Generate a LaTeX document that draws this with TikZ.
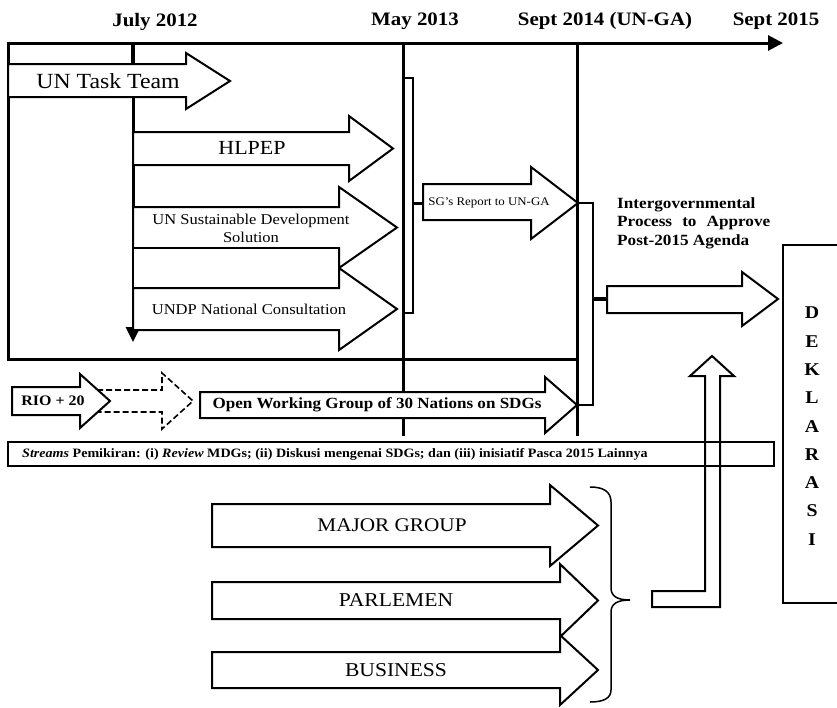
\documentclass[tikz,border=0pt]{standalone}
\usepackage{fontspec}
\setmainfont{Liberation Serif}[FakeStretch=1.1]
\usetikzlibrary{arrows.meta}
% #1 style, #2 left x, #3 body top, #4 body bottom, #5 notch x, #6 head top, #7 head bottom, #8 tip x
\newcommand{\fatarr}[8]{%
  \draw[#1] (#2,#3) -- (#5,#3) -- (#5,#6) -- (#8,{(#6+#7)/2}) -- (#5,#7) -- (#5,#4) -- (#2,#4) -- cycle;}
\begin{document}
\begin{tikzpicture}[x=1pt,y=-1pt,
  arr/.style={draw=black,line width=2pt,fill=white,line join=miter},
  dasharr/.style={draw=black,line width=1.6pt,dashed,dash pattern=on 6pt off 3pt,line join=miter},
  thick3/.style={line width=3pt},
  hdr/.style={font=\fontsize{19}{22}\selectfont\bfseries,inner sep=0pt},
  big/.style={font=\fontsize{20}{24}\selectfont,inner sep=0pt},
  mid/.style={font=\fontsize{15}{18}\selectfont,inner sep=0pt,align=center},
  small/.style={font=\fontsize{11.7}{14}\selectfont,inner sep=0pt},
  bsmall/.style={font=\fontsize{15.5}{18}\selectfont\bfseries,inner sep=0pt},
  dek/.style={font=\fontsize{18}{20}\selectfont\bfseries,inner sep=0pt},
  brk/.style={line width=2pt,line join=miter},
  link/.style={line width=4pt}]
\useasboundingbox (0,0) rectangle (837,707);

% timeline + main frame
\draw[thick3,line join=miter,-{Triangle[length=15pt,width=15pt]}] (577,359) -- (8,359) -- (8,43) -- (783,43);
\draw[thick3] (577,43) -- (577,436);
\draw[thick3] (403,43) -- (403,436);
\draw[line width=4pt] (133,43) -- (133,64);
\draw[thick3,-{Triangle[length=15pt,width=14pt]}] (133,97) -- (133,342);

% headers
\node[hdr] (h1) at (155,22) {July 2012};
\node[hdr] (h2) at (415,21) {May 2013};
\node[hdr] (h3) at (605,21) {Sept 2014 (UN-GA)};
\node[hdr] (h4) at (776,21) {Sept 2015};

% arrows in the box
\fatarr{arr}{8}{64}{97}{186}{53}{109}{230}
\node[big,font=\fontsize{21.6}{24}\selectfont] (tt) at (108,81) {UN Task Team};
\fatarr{arr}{133}{132}{165}{349}{116}{181}{393}
\node[big] (hl) at (252,148) {HLPEP};
\fatarr{arr}{133}{207}{248}{339}{187}{268}{397}
\node[mid] (sds) at (251,228) {UN Sustainable Development\\Solution};
\draw[arr] (133,248) rectangle (339,288);
\fatarr{arr}{133}{288}{330}{339}{268}{350}{397}
\node[mid] (undp) at (249,309) {UNDP National Consultation};

% bracket 1 and SG report
\draw[brk] (403,78) -- (413,78) -- (413,313) -- (403,313);
\coordinate (b1) at (413,203);
\fatarr{arr}{423}{184}{220}{531}{167}{239}{578}
\coordinate (sgl) at (423,203);
\node[small] (sg) at (489,203) {SG’s Report to UN-GA};
\draw[line width=3pt] (b1) -- (sgl);

% RIO and OWG
\fatarr{dasharr}{70}{390}{412}{162}{373}{429}{193}
\fatarr{arr}{12}{387}{415}{80}{374}{428}{110}
\node[font=\fontsize{14.5}{16}\selectfont\bfseries,inner sep=0pt] (rio) at (53,401) {RIO + 20};
\fatarr{arr}{200}{392}{418}{545}{377}{433}{577}
\node[bsmall] (owg) at (377,405) {Open Working Group of 30 Nations on SDGs};

% bracket 2 and intergovernmental arrow
\draw[brk] (578,203) -- (593,203) -- (593,405) -- (578,405);
\coordinate (b2) at (593,299);
\fatarr{arr}{607}{286}{313}{742}{272}{326}{778}
\coordinate (igl) at (607,299);
\draw[link] (b2) -- (igl);
\node[font=\fontsize{15.6}{18.5}\selectfont\bfseries,inner sep=0pt,align=left,anchor=west] (ig) at (617,223)
  {Intergovernmental\\\makebox[153pt][s]{Process to Approve}\\Post-2015 Agenda};

% streams box
\draw[line width=1.5pt] (8,442) rectangle (774,466);
\node[font=\fontsize{12.8}{14}\selectfont\bfseries,inner sep=0pt,anchor=west] (st) at (22,454)
  {\textit{Streams} Pemikiran: (i) \textit{Review} MDGs; (ii) Diskusi mengenai SDGs; dan (iii) inisiatif Pasca 2015 Lainnya};

% lower arrows
\fatarr{arr}{212}{652}{688}{560}{635}{705}{598}
\node[big,font=\fontsize{19.6}{22}\selectfont] (bus) at (396,670) {BUSINESS};
\fatarr{arr}{212}{582}{619}{560}{564}{637}{598}
\node[big,font=\fontsize{19.6}{22}\selectfont] (par) at (396,600) {PARLEMEN};
\fatarr{arr}{212}{504}{547}{550}{485}{566}{598}
\node[big,font=\fontsize{19.3}{22}\selectfont] (maj) at (392,525) {MAJOR GROUP};

% brace
\draw[line width=1.5pt] (590,487) .. controls (604,487) and (611,492) .. (611,502) -- (611,588)
  .. controls (611,596) and (617,600) .. (630,600) .. controls (617,600) and (611,604) .. (611,612)
  -- (611,690) .. controls (611,698) and (604,702) .. (590,702);

% up L-arrow
\draw[brk] (652,591) -- (705,591) -- (705,376) -- (690,376) -- (712,356) -- (734,376) -- (720,376) -- (720,607) -- (652,607) -- cycle;

% DEKLARASI
\draw[brk] (840,245) -- (783,245) -- (783,603) -- (840,603);
\foreach \L [count=\i from 0] in {D,E,K,L,A,R,A,S,I}
  \node[dek] (d\i) at (812,{313+28.3*\i}) {\L};
\end{tikzpicture}
\end{document}
